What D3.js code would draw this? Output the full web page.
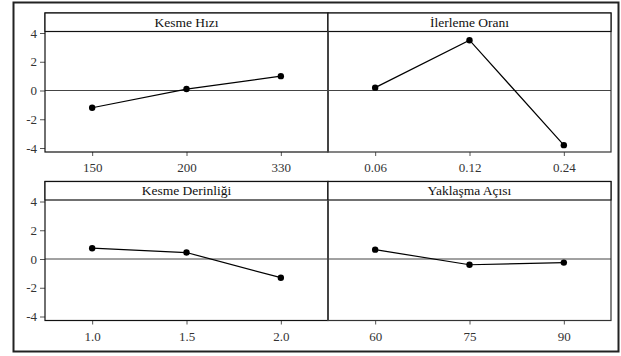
<!DOCTYPE html>
<html lang="tr">
<head>
<meta charset="UTF-8">
<title>Ana Etkiler</title>
<script src="https://d3js.org/d3.v7.min.js"></script>
<style>
    body { margin: 0; background: #fff; }
    svg text { font-family: "Liberation Serif", "Times New Roman", "DejaVu Serif", serif; }
    .tick text { font-size: 13px; fill: #333; }
    .tick line { stroke: #555; }
    path.domain { display: none; }
</style>
</head>
<body>
<div id="viz"></div>
<script>
    // factor names (panel strips)
    var factors = ["Kesme Hızı", "İlerleme Oranı", "Kesme Derinliği", "Yaklaşma Açısı"];

    // levels (x tick labels) for each factor
    var levelsKesmeHizi = ["150", "200", "330"];
    var levelsIlerleme = ["0.06", "0.12", "0.24"];
    var levelsDerinlik = ["1.0", "1.5", "2.0"];
    var levelsAci = ["60", "75", "90"];

    // mean effect values
    var valuesKesmeHizi = [-1.2, 0.1, 1.0];
    var valuesIlerleme = [0.2, 3.5, -3.8];
    var valuesDerinlik = [0.75, 0.45, -1.3];
    var valuesAci = [0.65, -0.4, -0.25];

    var yTicks = [-4, -2, 0, 2, 4];

    var panels = [
        { name: factors[0], levels: levelsKesmeHizi, values: valuesKesmeHizi, col: 0, row: 0 },
        { name: factors[1], levels: levelsIlerleme, values: valuesIlerleme, col: 1, row: 0 },
        { name: factors[2], levels: levelsDerinlik, values: valuesDerinlik, col: 0, row: 1 },
        { name: factors[3], levels: levelsAci, values: valuesAci, col: 1, row: 1 }
    ];

    var W = 621, H = 356;
    var svg = d3.select("#viz").append("svg").attr("width", W).attr("height", H);

    // outer frame
    svg.append("rect")
        .attr("x", 13.5).attr("y", 2.5)
        .attr("width", 605).attr("height", 349)
        .attr("fill", "none").attr("stroke", "#222").attr("stroke-width", 2);

    var colX = [45, 328], panelW = 283;
    var rowY = [13, 181.5];
    var stripH = 18.5, plotBottom = 139;

    panels.forEach(function (p) {
        var x0 = colX[p.col], y0 = rowY[p.row];
        var g = svg.append("g");

        var xScale = d3.scalePoint().domain(p.levels).range([x0, x0 + panelW]).padding(0.5);
        var yScale = d3.scaleLinear().domain([-4, 4]).range([y0 + 135, y0 + 20]);

        // x axis
        g.append("g")
            .attr("transform", "translate(0," + (y0 + plotBottom) + ")")
            .call(d3.axisBottom(xScale).tickSize(4).tickPadding(7))
            .attr("font-family", null).attr("font-size", null);

        // y axis only on left column
        if (p.col === 0) {
            g.append("g")
                .attr("transform", "translate(" + x0 + ",0)")
                .call(d3.axisLeft(yScale).tickValues(yTicks).tickSize(5).tickPadding(3)
                    .tickFormat(function (d) { return d; }))
                .attr("font-family", null).attr("font-size", null);
        }

        // zero reference line
        g.append("line")
            .attr("x1", x0).attr("x2", x0 + panelW)
            .attr("y1", yScale(0)).attr("y2", yScale(0))
            .attr("stroke", "#444").attr("stroke-width", 1);

        // panel border
        g.append("rect")
            .attr("x", x0).attr("y", y0)
            .attr("width", panelW).attr("height", plotBottom)
            .attr("fill", "none")
            .attr("stroke", p.col === 0 ? "#111" : "#333")
            .attr("stroke-width", 1.2);

        // strip
        g.append("rect")
            .attr("x", x0).attr("y", y0)
            .attr("width", panelW).attr("height", stripH)
            .attr("fill", "#fff").attr("stroke", "#111").attr("stroke-width", 1.2);
        g.append("text")
            .attr("x", x0 + panelW / 2).attr("y", y0 + stripH / 2 + 4.5)
            .attr("text-anchor", "middle")
            .style("font-family", "'Liberation Serif', 'Times New Roman', serif")
            .style("font-size", "13.5px")
            .style("fill", "#111")
            .text(p.name);

        // line + points
        var line = d3.line()
            .x(function (d, i) { return xScale(p.levels[i]); })
            .y(function (d) { return yScale(d); });

        g.append("path")
            .attr("d", line(p.values))
            .attr("fill", "none").attr("stroke", "#000").attr("stroke-width", 1.2);

        g.selectAll("circle")
            .data(p.values)
            .enter()
            .append("circle")
            .attr("cx", function (d, i) { return xScale(p.levels[i]); })
            .attr("cy", function (d) { return yScale(d); })
            .attr("r", 3.2)
            .attr("fill", "#000");
    });

    // thicker divider between columns
    rowY.forEach(function (y0) {
        svg.append("line")
            .attr("x1", colX[1]).attr("x2", colX[1])
            .attr("y1", y0 + stripH).attr("y2", y0 + plotBottom)
            .attr("stroke", "#444").attr("stroke-width", 2);
    });
</script>
</body>
</html>
